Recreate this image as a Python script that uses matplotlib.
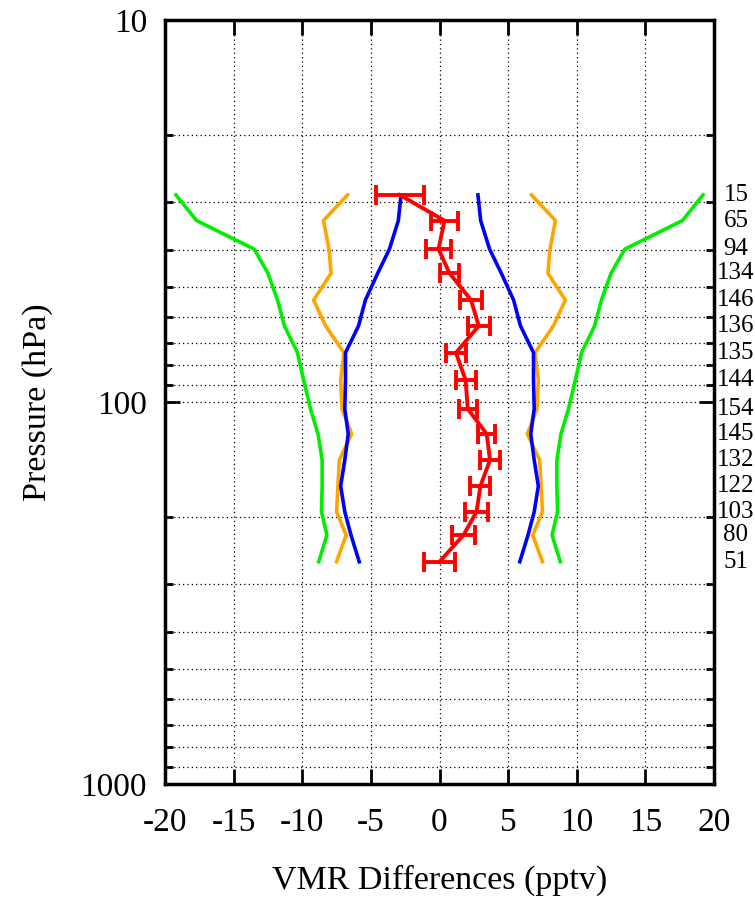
import matplotlib
matplotlib.use('Agg')
import matplotlib.pyplot as plt
from matplotlib.ticker import FixedLocator, LogLocator, NullFormatter
import numpy as np

plt.rcParams['font.family'] = ['Liberation Serif', 'DejaVu Serif']
plt.rcParams['axes.unicode_minus'] = False

# pressure levels (hPa)
pressure = [28.7, 33.5, 39.8, 46.0, 54.1, 63.2, 74.3, 87.6, 104.2, 121.3,
            141.9, 166.0, 193.8, 223.0, 261.9]

# mean VMR differences (pptv) and error
vmr_diff = [-2.9, 0.36, -0.07, 0.73, 2.3, 2.86, 1.2, 1.9, 2.06, 3.44,
            3.68, 2.98, 2.7, 1.75, 0.0]
vmr_err = [1.75, 1.0, 0.9, 0.7, 0.8, 0.8, 0.7, 0.73, 0.67, 0.64,
           0.7, 0.73, 0.85, 0.85, 1.1]

# envelopes (drawn as +/-)
blue_env = [2.8, 3.0, 3.65, 4.5, 5.4, 5.9, 6.85, 6.85, 6.9, 6.65,
            6.9, 7.2, 6.9, 6.45, 5.85]
orange_env = [6.7, 8.45, 8.05, 7.9, 9.17, 8.3, 6.96, 7.2, 7.1, 6.4,
              7.3, 7.4, 7.5, 6.8, 7.5]
green_env = [19.2, 17.7, 13.5, 12.5, 11.8, 11.3, 10.35, 9.9, 9.4, 8.85,
             8.55, 8.55, 8.6, 8.2, 8.8]

counts = [15, 65, 94, 134, 146, 136, 135, 144, 154, 145, 132, 122, 103, 80, 51]

fig = plt.figure(figsize=(7.55, 8.99), dpi=100)
ax = fig.add_axes([165 / 755, 1 - 784 / 899, 549 / 755, 764 / 899])

p = np.array(pressure)
for env, col in [(green_env, '#00ee00'), (orange_env, '#ffa500'), (blue_env, '#0000ff')]:
    e = np.array(env)
    ax.plot(-e, p, color=col, lw=2.6)
    ax.plot(e, p, color=col, lw=2.6)

ax.errorbar(vmr_diff, pressure, xerr=vmr_err, color='#ff0000', lw=2.8,
            capsize=7, capthick=2.8, elinewidth=2.8)

ax.set_yscale('log')
ax.set_ylim(1000, 10)
ax.set_xlim(-20, 20)
ax.set_xticks(np.arange(-20, 21, 5))
ax.yaxis.set_major_locator(FixedLocator([10, 100, 1000]))
ax.yaxis.set_minor_locator(LogLocator(base=10, subs=np.arange(2, 10)))
ax.yaxis.set_minor_formatter(NullFormatter())
ax.set_yticklabels(['10', '100', '1000'])

ax.grid(True, which='both', color='black', linestyle=(0, (1, 2.5)), lw=0.9)
ax.tick_params(which='major', direction='in', length=11, width=2,
               top=True, right=True, labelsize=24)
ax.tick_params(which='minor', direction='in', length=6, width=2,
               top=True, right=True)
ax.tick_params(axis='x', pad=17)
ax.tick_params(axis='y', pad=13)
for s in ax.spines.values():
    s.set_linewidth(2.5)

ax.set_xlabel('VMR Differences (pptv)', fontsize=24.5, labelpad=19)
ax.set_ylabel('Pressure (hPa)', fontsize=24.5, labelpad=20)

trans = matplotlib.transforms.blended_transform_factory(fig.transFigure, ax.transData)
for c, pr in zip(counts, pressure):
    ax.text(736 / 755, pr, str(c), transform=trans, ha='center', va='center',
            fontsize=18, clip_on=False)

fig.savefig('out.png', dpi=100)
